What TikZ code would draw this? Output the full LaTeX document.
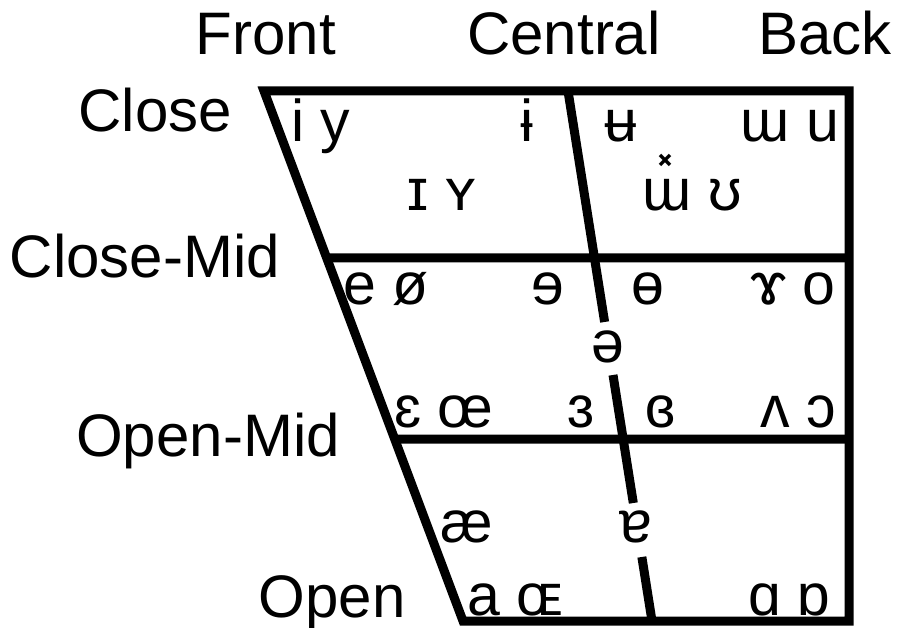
\documentclass[tikz,border=0pt]{standalone}
\usepackage{fontspec}
\setmainfont{Liberation Sans}
\usetikzlibrary{calc}
\tikzset{
  chartline/.style={line width=9pt, line join=miter},
  axislabel/.style={inner sep=0pt, anchor=base, font=\fontsize{60}{62}\selectfont},
  vowel/.style={inner sep=0pt, anchor=base, font=\fontsize{59}{62}\selectfont},
}
\begin{document}
\begin{tikzpicture}[x=1pt, y=-1pt]
\path[use as bounding box] (0,0) rectangle (899,628);

% corners of the vowel trapezium
\coordinate (tl) at (264,91);
\coordinate (tr) at (849,91);
\coordinate (br) at (849,621);
\coordinate (bl) at (463,621);
% central line ends
\coordinate (ct) at (568,91);
\coordinate (cb) at (652,621);

% height levels on the front edge
\coordinate (cml) at ($(tl)!0.3151!(bl)$);
\coordinate (oml) at ($(tl)!0.6566!(bl)$);
\coordinate (cmr) at (849,258);
\coordinate (omr) at (849,439);

% gaps in the central line around the schwa and turned a
\coordinate (c1) at ($(ct)!0.4358!(cb)$);
\coordinate (c2) at ($(ct)!0.5358!(cb)$);
\coordinate (c3) at ($(ct)!0.7774!(cb)$);
\coordinate (c4) at ($(ct)!0.8792!(cb)$);

\draw[chartline] (tl) -- (tr) -- (br) -- (bl) -- cycle;
\draw[chartline] (cml) -- (cmr);
\draw[chartline] (oml) -- (omr);
\draw[chartline, line cap=butt] (ct) -- (c1);
\draw[chartline, line cap=butt] (c2) -- (c3);
\draw[chartline, line cap=butt] (c4) -- (cb);

% column and row labels
\node[axislabel] (front) at (266,55) {Front};
\node[axislabel] (central) at (564,55) {Central};
\node[axislabel] (back) at (825,55) {Back};
\node[axislabel, anchor=base east] (close) at (232,132) {Close};
\node[axislabel] (closemid) at (145,277) {Close-Mid};
\node[axislabel] (openmid) at (208,456) {Open-Mid};
\node[axislabel] (open) at (332,617) {Open};

% vowel symbols
\node[vowel] (v1) at (321,142) {i y};
\node[vowel] (v2) at (527,142) {ɨ};
\node[vowel] (v3) at (621,142) {ʉ};
\node[vowel] (v4) at (790,142) {ɯ u};
\node[vowel] (v5) at (442,211) {ɪ ʏ};
\node[vowel] (v6) at (692,211) {ɯ̽ ʊ};
\node[vowel] (v7) at (386,305) {e ø};
\node[vowel] (v8) at (548,305) {ɘ};
\node[vowel] (v9) at (648,305) {ɵ};
\node[vowel] (v10) at (793,305) {ɤ o};
\node[vowel] (v11) at (608,362) {ə};
\node[vowel] (v12) at (444,427) {ɛ œ};
\node[vowel] (v13) at (581,427) {ɜ};
\node[vowel] (v14) at (660,427) {ɞ};
\node[vowel] (v15) at (798,427) {ʌ ɔ};
\node[vowel] (v16) at (467,542) {æ};
\node[vowel] (v17) at (636,542) {ɐ};
\node[vowel] (v18) at (515,615) {a ɶ};
\node[vowel] (v19) at (789,615) {ɑ ɒ};
\end{tikzpicture}
\end{document}
